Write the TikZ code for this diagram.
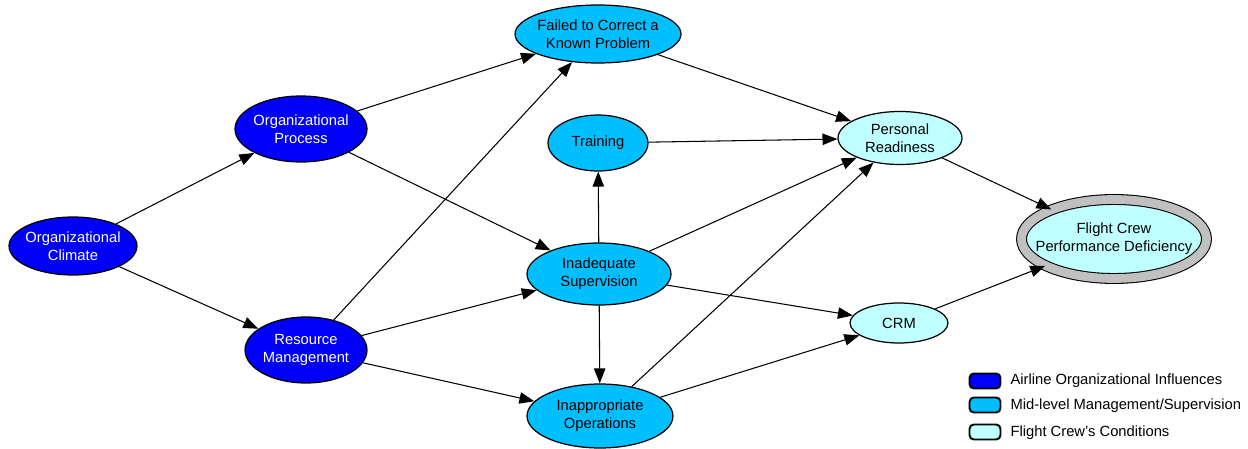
\documentclass[tikz,border=0pt]{standalone}
\usepackage{fontspec}
\setmainfont{Liberation Sans}
\usetikzlibrary{shapes.geometric,arrows.meta}
\definecolor{orgblue}{RGB}{0,0,250}
\definecolor{midblue}{RGB}{0,191,255}
\definecolor{crewcyan}{RGB}{192,255,255}
\definecolor{ringgray}{RGB}{192,192,192}
\begin{document}
\begin{tikzpicture}[x=0.02cm,y=-0.02cm,
    font=\fontsize{8.4}{10.2}\selectfont,
    bubble/.style={ellipse,draw=black,line width=0.7pt,inner ysep=0pt,inner xsep=-0.2cm,align=center},
    org/.style={bubble,fill=orgblue,text=white},
    mid/.style={bubble,fill=midblue},
    crew/.style={bubble,fill=crewcyan},
    key/.style={draw=black,line width=1.1pt,rounded corners=2.5pt,minimum width=0.62cm,minimum height=0.3cm,inner sep=0pt},
    >={Triangle[length=8.5pt,width=6.5pt]}, line width=0.6pt]
    \useasboundingbox (0,0) rectangle (1248,449);
    \node[org,minimum width=2.56cm,minimum height=1.16cm] (OC) at (73,246) {Organizational\\Climate};
    \node[org,minimum width=2.64cm,minimum height=1.32cm] (OP) at (301,129) {Organizational\\Process};
    \node[org,minimum width=2.44cm,minimum height=1.32cm] (RM) at (306,350) {Resource\\Management};
    \node[mid,minimum width=3.32cm,minimum height=1.16cm] (FC) at (598,34) {Failed to Correct a\\Known Problem};
    \node[mid,minimum width=2.0cm,minimum height=1.12cm] (TR) at (598,143) {Training};
    \node[mid,minimum width=2.88cm,minimum height=1.24cm] (IS) at (599,274) {Inadequate\\Supervision};
    \node[mid,minimum width=2.92cm,minimum height=1.28cm] (IO) at (600,416) {Inappropriate\\Operations};
    \node[crew,minimum width=2.48cm,minimum height=1.06cm] (PR) at (900,138) {Personal\\Readiness};
    \node[crew,minimum width=1.96cm,minimum height=0.8cm] (CRM) at (899,323) {CRM};
    \node[crew,draw=black,double=ringgray,double distance=5pt,line width=0.6pt,inner xsep=-0.35cm,
          minimum width=3.7cm,minimum height=1.58cm] (FD) at (1114,239) {Flight Crew\\Performance Deficiency};
    % connectors
    \draw[->] (OC) -- (OP);
    \draw[->] (OC) -- (RM);
    \draw[->] (OP) -- (FC);
    \draw[->] (OP) -- (IS);
    \draw[->] (RM) -- (FC);
    \draw[->] (RM) -- (IS);
    \draw[->] (RM) -- (IO);
    \draw[->] (IS) -- (TR);
    \draw[->] (IS) -- (IO);
    \draw[->] (IS) -- (PR);
    \draw[->] (IS) -- (CRM);
    \draw[->] (IO) -- (PR);
    \draw[->] (IO) -- (CRM);
    \draw[->] (FC) -- (PR);
    \draw[->] (TR) -- (PR);
    \draw[->] (PR) -- (FD);
    \draw[->] (CRM) -- (FD);
    % legend
    \node[key,fill=orgblue] (K1) at (985,381) {};
    \node[key,fill=midblue] (K2) at (985,405) {};
    \node[key,fill=crewcyan] (K3) at (985,432) {};
    \node[anchor=west,inner sep=0pt] (L1) at (1010,381) {Airline Organizational Influences};
    \node[anchor=west,inner sep=0pt] (L2) at (1010,406) {Mid-level Management/Supervision};
    \node[anchor=west,inner sep=0pt] (L3) at (1010,433) {Flight Crew’s Conditions};
\end{tikzpicture}
\end{document}
